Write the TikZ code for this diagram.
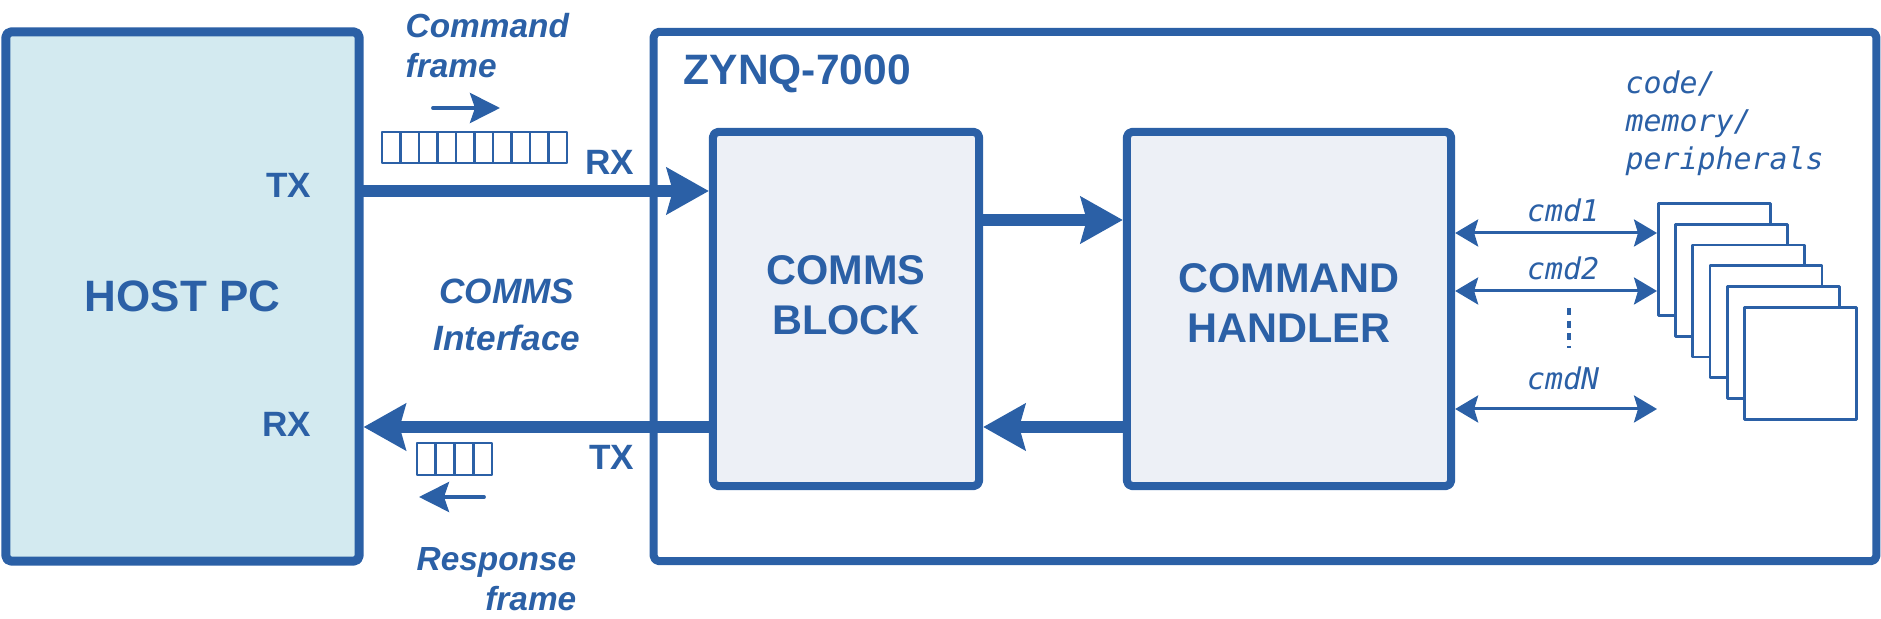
\documentclass[tikz,border=0pt]{standalone}
\usepackage{fontspec}
\setmainfont{Liberation Sans}
\newfontfamily\codefont{DejaVu Sans Mono}
\usetikzlibrary{arrows.meta}
\usetikzlibrary{positioning}
\definecolor{zblue}{RGB}{43,96,166}
\definecolor{hostfill}{RGB}{211,234,240}
\definecolor{blockfill}{RGB}{237,240,246}
\tikzset{
  hostbox/.style={draw=zblue,fill=hostfill,line width=2.55pt,rounded corners=1.5pt,inner sep=0pt,
    font=\fontsize{12.5}{15}\selectfont\bfseries},
  chipbox/.style={draw=zblue,line width=2.3pt,rounded corners=1.5pt,inner sep=0pt},
  blockbox/.style={draw=zblue,fill=blockfill,line width=2.3pt,rounded corners=1.5pt,inner sep=0pt,
    font=\fontsize{11.8}{14.2}\selectfont\bfseries,align=center},
  blocklbl/.style={inner sep=0pt,font=\fontsize{11.8}{14.2}\selectfont\bfseries,align=center},
  chiplbl/.style={inner sep=0pt,font=\fontsize{12.1}{15}\selectfont\bfseries},
  portlbl/.style={inner sep=0pt,font=\fontsize{10}{12}\selectfont\bfseries},
  framelbl/.style={inner sep=0pt,font=\fontsize{9.5}{11.4}\selectfont\bfseries\itshape},
  ifacelbl/.style={inner sep=0pt,font=\fontsize{10}{13.3}\selectfont\bfseries\itshape,align=center},
  codelbl/.style={inner sep=0pt,font=\fontsize{8.5}{10.8}\selectfont\codefont\itshape},
  pagebox/.style={draw=zblue,fill=white,line width=0.8pt,minimum size=1.12cm,inner sep=0pt},
  bus/.style={line width=3.2pt},
  cmdlink/.style={line width=0.85pt,>={Stealth[length=2.3mm,width=2.7mm,inset=0.4mm]}},
  framearrow/.style={line width=1.1pt,>={Stealth[length=3mm,width=3mm,inset=0.5mm]}},
  cell/.style={line width=0.75pt},
  dotline/.style={line width=1pt,line cap=butt,dash pattern=on 2pt off 1.6pt}
}
\begin{document}
\begin{tikzpicture}[line cap=round,line join=round,x=0.01cm,y=-0.01cm,color=zblue,
  >={Stealth[length=4.2mm,width=4.6mm,inset=0.6mm]}]
\useasboundingbox (0,0) rectangle (1881,619);
% boxes
\node[chipbox,minimum width=12.22cm,minimum height=5.29cm] (zynq) at (1265,296.5) {};
\node[hostbox,minimum width=3.53cm,minimum height=5.29cm] (host) at (182.5,296.5) {HOST PC};
\node[blockbox,minimum width=2.66cm,minimum height=3.54cm] (comms) at (846,309) {};
\node[blockbox,minimum width=3.24cm,minimum height=3.54cm] (handler) at (1289,309) {};
\node[blocklbl,below=12.7mm of comms.north] (commstxt) {COMMS\\BLOCK};
\node[blocklbl,below=13.5mm of handler.north] (handlertxt) {COMMAND\\HANDLER};
% labels
\node[chiplbl,anchor=base west] (zynqtxt) at (683,85) {ZYNQ-7000};
\node[portlbl,anchor=base east] (hosttx) at (312,198) {TX};
\node[portlbl,anchor=base east] (hostrx) at (312,437) {RX};
\node[portlbl,anchor=base east] (zynqrx) at (635,175) {RX};
\node[portlbl,anchor=base east] (zynqtx) at (635,470) {TX};
\node[framelbl,align=left,anchor=north west] (cmdframe) at (405,13) {Command\\frame};
\node[framelbl,align=right,anchor=north east] (respframe) at (577,547) {Response\\frame};
\node[ifacelbl,anchor=north] (iface) at (507,278) {COMMS\\Interface};
\node[codelbl,align=left,anchor=north west] (mem) at (1625,70) {code/\\memory/\\peripherals};
% links
\draw[bus,->] (host.east |- 0,191) -- (comms.west |- 0,191);
\draw[bus,->] (comms.west |- 0,427) -- (host.east |- 0,427);
\draw[bus,->] (comms.east |- 0,220) -- (handler.west |- 0,220);
\draw[bus,->] (handler.west |- 0,427) -- (comms.east |- 0,427);
% frames
\foreach \i in {0,...,9}
  \draw[cell] ({382+18.5*\i},132) rectangle +(18.5,31);
\foreach \i in {0,...,3}
  \draw[cell] ({417+18.75*\i},443) rectangle +(18.75,32);
\coordinate (cmdtail) at (433,108);
\coordinate (cmdhead) at (500,108);
\coordinate (resptail) at (484,497);
\coordinate (resphead) at (419,497);
\draw[framearrow,->] (cmdtail) -- (cmdhead);
\draw[framearrow,->] (resptail) -- (resphead);
% pages
\foreach \i in {0,...,5}
  \node[pagebox,anchor=north west] (p\i) at ({1657+17.2*\i},{202+20.8*\i}) {};
% commands
\node[codelbl,anchor=base] (cmd1) at (1563,222) {cmd1};
\node[codelbl,anchor=base] (cmd2) at (1563,280) {cmd2};
\node[codelbl,anchor=base] (cmdN) at (1563,390) {cmdN};
\coordinate (cmdNend) at (1657,409);
\draw[cmdlink,<->] (handler.east |- 0,233) -- (p0.west |- 0,233);
\draw[cmdlink,<->] (handler.east |- 0,291) -- (p0.west |- 0,291);
\draw[cmdlink,<->] (handler.east |- 0,409) -- (cmdNend);
\coordinate (dottop) at (1569,308);
\coordinate (dotbot) at (1569,348);
\draw[dotline] (dottop) -- (dotbot);
\end{tikzpicture}
\end{document}
